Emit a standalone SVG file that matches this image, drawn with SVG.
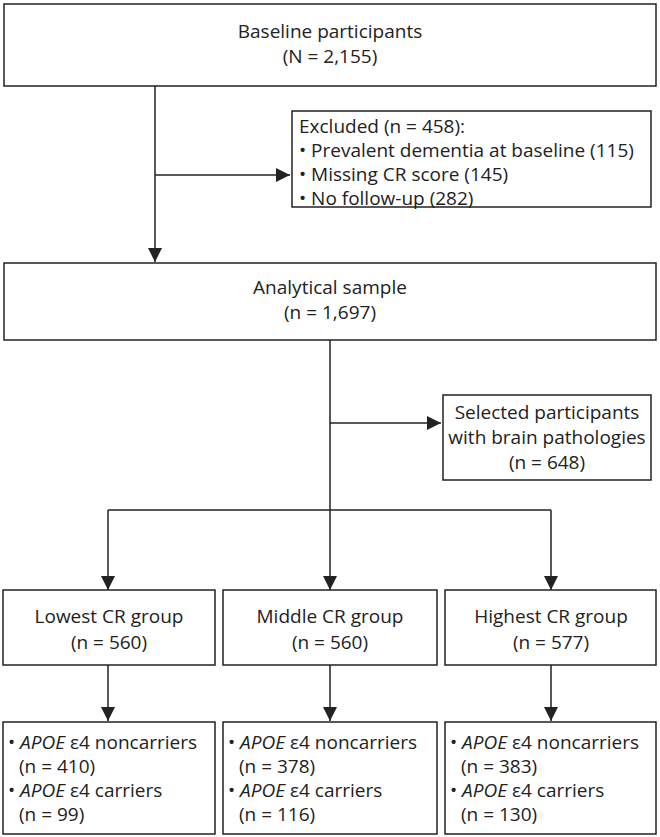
<svg xmlns="http://www.w3.org/2000/svg" width="660" height="837" viewBox="0 0 660 837">
<style>
rect{fill:#fff;stroke:#222;stroke-width:1.5}
text{font-family:"Open Sans","Noto Sans",sans-serif;font-size:19px;fill:#222}
.c{text-anchor:middle}
#conn line{stroke:#222;stroke-width:1.5}
</style>
<defs>
<marker id="b" viewBox="0 0 14 14" refX="14" refY="7" markerWidth="14" markerHeight="14" markerUnits="userSpaceOnUse" orient="auto"><path d="M0,0L14,7L0,14z" fill="#222"/></marker></defs>
<rect x="0" y="0" width="660" height="837" style="fill:#fff;stroke:none"/>
<g id="conn">
<line x1="155" y1="86" x2="155" y2="262" marker-end="url(#b)"/>
<line x1="155" y1="175" x2="290" y2="175" marker-end="url(#b)"/>
<line x1="330" y1="340" x2="330" y2="510"/>
<line x1="330" y1="423" x2="441" y2="423" marker-end="url(#b)"/>
<line x1="108" y1="510" x2="551" y2="510"/>
<line x1="108" y1="510" x2="108" y2="590" marker-end="url(#b)"/>
<line x1="330" y1="510" x2="330" y2="590" marker-end="url(#b)"/>
<line x1="551" y1="510" x2="551" y2="590" marker-end="url(#b)"/>
<line x1="108" y1="665" x2="108" y2="721" marker-end="url(#b)"/>
<line x1="330" y1="665" x2="330" y2="721" marker-end="url(#b)"/>
<line x1="551" y1="665" x2="551" y2="721" marker-end="url(#b)"/>
</g>
<g id="n1"><rect x="4" y="4" width="652" height="82"/><text class="c" x="330" y="38">Baseline participants</text><text class="c" x="330" y="63">(N = 2,155)</text></g>
<g id="n2"><rect x="292" y="111" width="359" height="96"/><text x="299" y="133">Excluded (n = 458):</text><text x="299" y="157">• Prevalent dementia at baseline (115)</text><text x="299" y="181">• Missing CR score (145)</text><text x="299" y="205">• No follow-up (282)</text></g>
<g id="n3"><rect x="4" y="263" width="652" height="77"/><text class="c" x="330" y="294">Analytical sample</text><text class="c" x="330" y="319">(n = 1,697)</text></g>
<g id="n4"><rect x="443" y="395" width="208" height="85"/><text class="c" x="547" y="419">Selected participants</text><text class="c" x="547" y="444">with brain pathologies</text><text class="c" x="547" y="469">(n = 648)</text></g>
<g id="g1"><rect x="3" y="590" width="212" height="75"/><text class="c" x="109" y="623">Lowest CR group</text><text class="c" x="109" y="649">(n = 560)</text></g>
<g id="g2"><rect x="223" y="590" width="214" height="75"/><text class="c" x="330" y="623">Middle CR group</text><text class="c" x="330" y="649">(n = 560)</text></g>
<g id="g3"><rect x="445" y="590" width="211" height="75"/><text class="c" x="551" y="623">Highest CR group</text><text class="c" x="551" y="649">(n = 577)</text></g>
<g id="b1"><rect x="3" y="722" width="212" height="112"/><text x="8" y="749">• <tspan font-style="italic">APOE</tspan> ε4 noncarriers</text><text x="19" y="773">(n = 410)</text><text x="8" y="797">• <tspan font-style="italic">APOE</tspan> ε4 carriers</text><text x="19" y="821">(n = 99)</text></g>
<g id="b2"><rect x="223" y="722" width="214" height="112"/><text x="228" y="749">• <tspan font-style="italic">APOE</tspan> ε4 noncarriers</text><text x="239" y="773">(n = 378)</text><text x="228" y="797">• <tspan font-style="italic">APOE</tspan> ε4 carriers</text><text x="239" y="821">(n = 116)</text></g>
<g id="b3"><rect x="445" y="722" width="211" height="112"/><text x="450" y="749">• <tspan font-style="italic">APOE</tspan> ε4 noncarriers</text><text x="461" y="773">(n = 383)</text><text x="450" y="797">• <tspan font-style="italic">APOE</tspan> ε4 carriers</text><text x="461" y="821">(n = 130)</text></g>
</svg>
